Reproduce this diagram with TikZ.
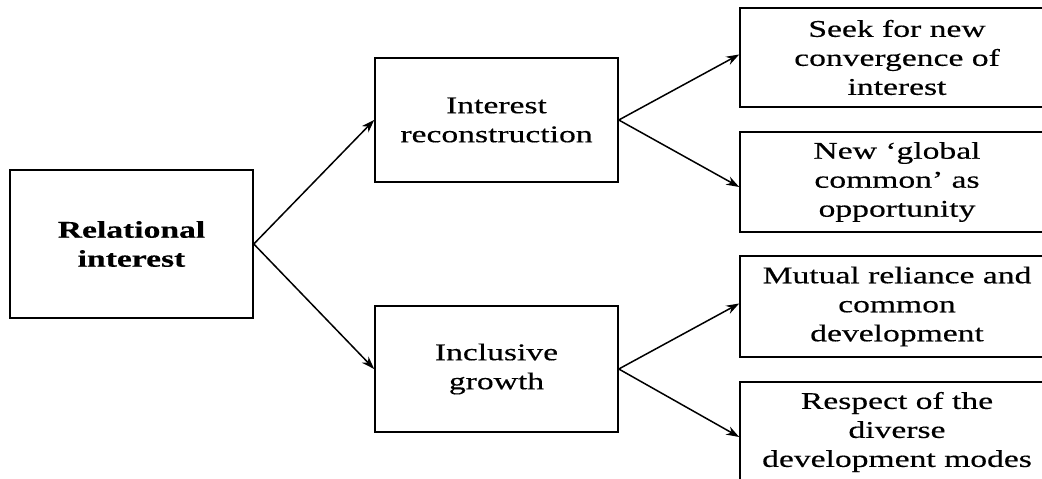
\documentclass[tikz,border=0pt]{standalone}
\usepackage{fontspec}
\setmainfont{Liberation Serif}[FakeStretch=1.4, FakeBold=0.4]
\usetikzlibrary{arrows.meta}
\begin{document}
\begin{tikzpicture}[x=1pt,y=-1pt,
  box/.style={draw, line width=1.6pt, rectangle, align=center, inner sep=0pt,
              font=\fontsize{24}{29}\selectfont},
  link/.style={line width=1.5pt, -{Stealth[length=13pt,width=9pt]}}]
\useasboundingbox (0,0) rectangle (1042,479);
\clip (0,0) rectangle (1042,479);

% root
\node[box, minimum width=243pt, minimum height=148pt, font=\fontsize{24}{29}\selectfont\bfseries]
  (rel) at (131.5,244) {Relational\\interest};

% middle level
\node[box, minimum width=243pt, minimum height=124pt] (rec) at (496.5,120)
  {Interest\\reconstruction};
\node[box, minimum width=243pt, minimum height=126pt] (inc) at (496.5,369)
  {Inclusive\\growth};

% leaves
\node[box, minimum width=314pt, minimum height=99pt] (seek) at (897,57.5)
  {Seek for new\\convergence of\\interest};
\node[box, minimum width=314pt, minimum height=100pt] (glob) at (897,182)
  {New `global\\common' as\\opportunity};
\node[box, minimum width=314pt, minimum height=101pt] (mut) at (897,306.5)
  {Mutual reliance and\\common\\development};
\node[box, minimum width=314pt, minimum height=100pt] (resp) at (897,432)
  {Respect of the\\diverse\\development modes};

% connectors
\draw[link] (rel.east) -- (rec.west);
\draw[link] (rel.east) -- (inc.west);
\draw[link] (rec.east) -- ([yshift=3pt]seek.west);
\draw[link] (rec.east) -- ([yshift=-5pt]glob.west);
\draw[link] (inc.east) -- ([yshift=3pt]mut.west);
\draw[link] (inc.east) -- ([yshift=-5pt]resp.west);
\end{tikzpicture}
\end{document}
